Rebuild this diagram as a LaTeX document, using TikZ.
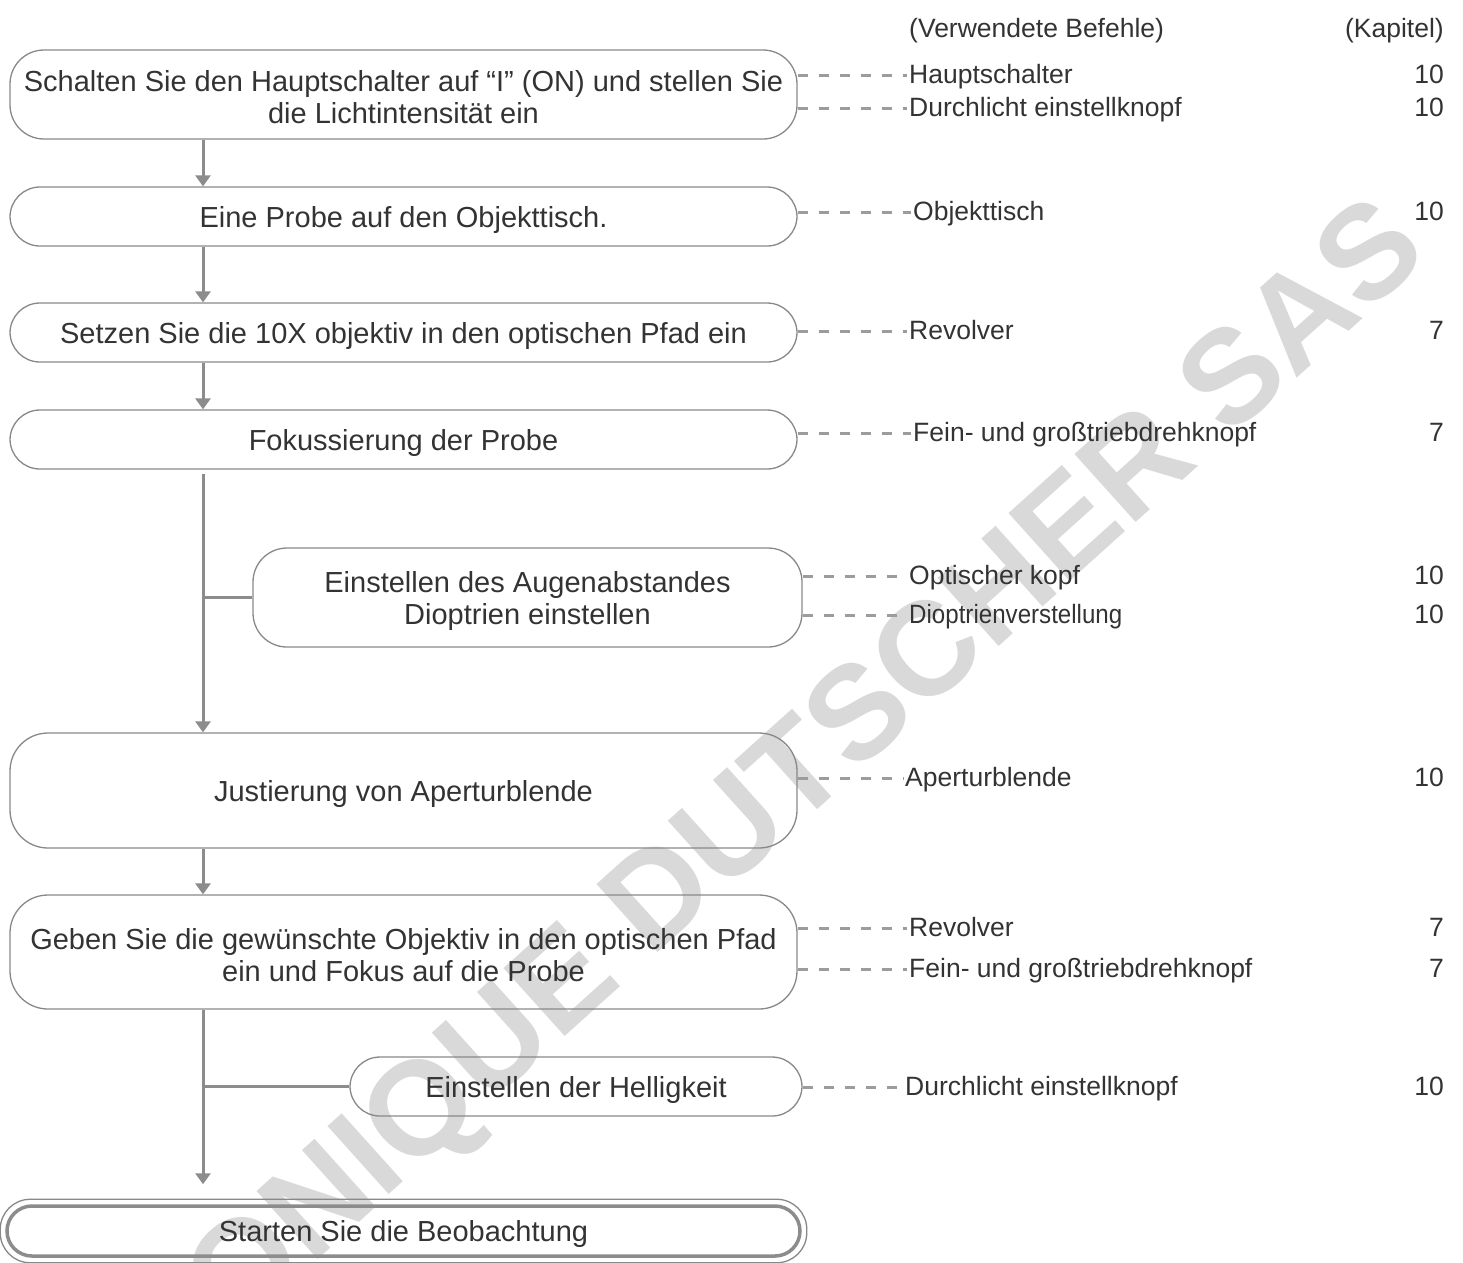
\documentclass[tikz,border=0pt]{standalone}
\usepackage{fontspec}
\usepackage{graphicx}
\setmainfont{Liberation Sans}
\usetikzlibrary{arrows.meta,calc}
\definecolor{txt}{HTML}{333333}
\definecolor{boxgray}{HTML}{888888}
\definecolor{linegray}{HTML}{8C8C8E}
\definecolor{dashgray}{HTML}{9C9C9C}
\definecolor{wm}{HTML}{D9D9D9}
\newcommand{\boxfont}{\fontsize{29}{32}\selectfont}
\newcommand{\labfont}{\fontsize{26.5}{30}\selectfont}
\newcommand{\wmfont}{\fontsize{133}{140}\selectfont\bfseries}
\newcommand{\topstrut}{\rule{0pt}{27pt}}
\tikzset{
  stepbox/.style={draw=boxgray, line width=1.3pt, rounded corners=30pt, align=center,
    text=txt, font=\boxfont, inner sep=0pt},
  onel/.style={text height=21pt, text depth=0pt},
  flow/.style={draw=linegray, line width=3pt},
  arr/.style={flow, -{Triangle[width=15pt,length=11pt]}},
  dashln/.style={draw=dashgray, line width=3pt, dash pattern=on 10pt off 11pt},
  lab/.style={anchor=west, text=txt, font=\labfont, inner sep=0pt, text height=19pt, text depth=3pt},
  num/.style={anchor=east, text=txt, font=\labfont, inner sep=0pt, text height=19pt, text depth=3pt}
}
\begin{document}
\begin{tikzpicture}[x=1pt,y=-1pt]
\useasboundingbox (0,0) rectangle (1463,1262);
% watermark
\node[text=wm, font=\wmfont, rotate=42, anchor=east, inner sep=0pt, text height=95pt, text depth=0pt] (wmark) at (1400,221) {VERONIQUE DUTSCHER SAS};

\coordinate (spine) at (203,0);

% boxes
\node[stepbox, minimum width=787pt, minimum height=89pt, rounded corners=34pt] (b1) at (403.5,94.5)
  {\topstrut Schalten Sie den Hauptschalter auf “I” (ON) und stellen Sie\\die Lichtintensität ein};
\node[stepbox, onel, minimum width=787pt, minimum height=59pt] (b2) at (403.5,216.5)
  {Eine Probe auf den Objekttisch.};
\node[stepbox, onel, minimum width=787pt, minimum height=59pt] (b3) at (403.5,332.5)
  {Setzen Sie die 10X objektiv in den optischen Pfad ein};
\node[stepbox, onel, minimum width=787pt, minimum height=59pt] (b4) at (403.5,439.5)
  {Fokussierung der Probe};
\node[stepbox, minimum width=549pt, minimum height=99pt, rounded corners=34pt] (b5) at (527.5,597.5)
  {\topstrut Einstellen des Augenabstandes\\Dioptrien einstellen};
\node[stepbox, onel, minimum width=787pt, minimum height=115pt, rounded corners=38pt] (b6) at (403.5,790.5)
  {Justierung von Aperturblende};
\node[stepbox, minimum width=787pt, minimum height=114pt, rounded corners=38pt] (b7) at (403.5,952)
  {\topstrut Geben Sie die gewünschte Objektiv in den optischen Pfad\\ein und Fokus auf die Probe};
\node[stepbox, onel, minimum width=452pt, minimum height=59pt] (b8) at (576,1086.5)
  {Einstellen der Helligkeit};
\node[stepbox, onel, draw=linegray, line width=3.5pt, rounded corners=25pt, minimum width=793pt, minimum height=50pt] (b9) at (403.5,1231)
  {Starten Sie die Beobachtung};
\draw[draw=boxgray, line width=1.3pt, rounded corners=30pt]
  ([xshift=-5pt,yshift=5pt]b9.north west) rectangle ([xshift=5pt,yshift=-5pt]b9.south east);

% flow connectors
\draw[arr] (b1.south -| spine) -- (b2.north -| spine);
\draw[arr] (b2.south -| spine) -- (b3.north -| spine);
\draw[arr] (b3.south -| spine) -- (b4.north -| spine);
\draw[arr] ([yshift=-4pt]b4.south -| spine) -- (b6.north -| spine);
\draw[flow] (spine |- b5.west) -- (b5.west);
\draw[arr] (b6.south -| spine) -- (b7.north -| spine);
\coordinate (tipend) at ($(b9.north -| spine)+(0,-20)$);
\draw[arr] (b7.south -| spine) -- (tipend);
\draw[flow] (spine |- b8.west) -- (b8.west);

% headers
\node[lab] (hdr1) at (909,29) {(Verwendete Befehle)};
\node[num] (hdr2) at (1444,29) {(Kapitel)};

% labels
\node[lab] (l1) at (909,75) {Hauptschalter};
\node[num] (n1) at (1444,75) {10};
\node[lab] (l2) at (909,108) {Durchlicht einstellknopf};
\node[num] (n2) at (1444,108) {10};
\node[lab] (l3) at (913,212) {Objekttisch};
\node[num] (n3) at (1444,212) {10};
\node[lab] (l4) at (909,331) {Revolver};
\node[num] (n4) at (1444,331) {7};
\node[lab] (l5) at (913,433) {Fein- und großtriebdrehknopf};
\node[num] (n5) at (1444,433) {7};
\node[lab] (l6) at (909,576) {Optischer kopf};
\node[num] (n6) at (1444,576) {10};
\node[lab] (l7) at (909,615) {\scalebox{0.91}[1]{Dioptrienverstellung}};
\node[num] (n7) at (1444,615) {10};
\node[lab] (l8) at (905,778) {Aperturblende};
\node[num] (n8) at (1444,778) {10};
\node[lab] (l9) at (909,928) {Revolver};
\node[num] (n9) at (1444,928) {7};
\node[lab] (l10) at (909,969) {Fein- und großtriebdrehknopf};
\node[num] (n10) at (1444,969) {7};
\node[lab] (l11) at (905,1087) {Durchlicht einstellknopf};
\node[num] (n11) at (1444,1087) {10};

% dashed connectors
\draw[dashln] (b1.east |- l1.west) -- ([xshift=-2pt]l1.west);
\draw[dashln] (b1.east |- l2.west) -- ([xshift=-2pt]l2.west);
\draw[dashln] (b2.east |- l3.west) -- ([xshift=-2pt]l3.west);
\draw[dashln] (b3.east |- l4.west) -- ([xshift=-2pt]l4.west);
\draw[dashln] (b4.east |- l5.west) -- ([xshift=-2pt]l5.west);
\draw[dashln] (b5.east |- l6.west) -- ([xshift=-2pt]l6.west);
\draw[dashln] (b5.east |- l7.west) -- ([xshift=-2pt]l7.west);
\draw[dashln] (b6.east |- l8.west) -- ([xshift=-2pt]l8.west);
\draw[dashln] (b7.east |- l9.west) -- ([xshift=-2pt]l9.west);
\draw[dashln] (b7.east |- l10.west) -- ([xshift=-2pt]l10.west);
\draw[dashln] (b8.east |- l11.west) -- ([xshift=-2pt]l11.west);
\end{tikzpicture}
\end{document}
